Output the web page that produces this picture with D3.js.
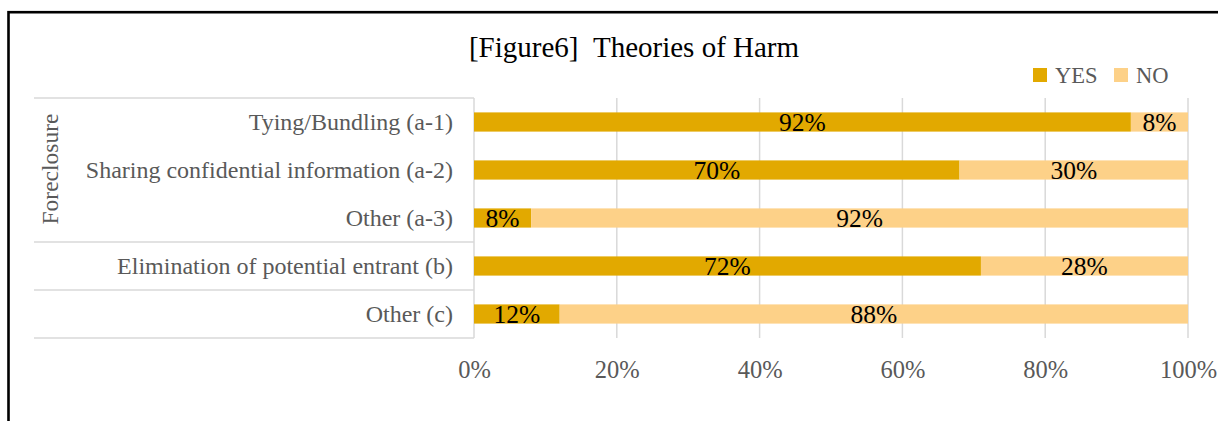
<!DOCTYPE html>
<html>
<head>
<meta charset="utf-8">
<script src="https://cdn.jsdelivr.net/npm/d3@7"></script>
<style>
  html, body { margin: 0; padding: 0; background: #fff; overflow: hidden; }
  svg { display: block; font-family: "Liberation Serif", "Times New Roman", serif; }
</style>
</head>
<body>
<div id="vis"></div>
<script>
// chart data
var categories = [
  'Tying/Bundling (a-1)',
  'Sharing confidential information (a-2)',
  'Other (a-3)',
  'Elimination of potential entrant (b)',
  'Other (c)'
];
var yesValues = [92, 68, 8, 71, 12];
var noValues = [8, 32, 92, 29, 88];
var yesLabels = ['92%', '70%', '8%', '72%', '12%'];
var noLabels = ['8%', '30%', '92%', '28%', '88%'];
var groupName = 'Foreclosure';
var groupSize = 3;
var seriesNames = ['YES', 'NO'];
var tickValues = [0, 20, 40, 60, 80, 100];

var width = 1218;
var height = 421;
var colors = { YES: '#e2a900', NO: '#fdd188' };
var gridColor = '#d9d9d9';
var textGray = '#595959';

var svg = d3.select('#vis')
  .append('svg')
  .attr('width', width)
  .attr('height', height);

// outer frame (right and bottom edges run off the page)
svg.append('rect')
  .attr('x', 8.5)
  .attr('y', 12.2)
  .attr('width', width + 20)
  .attr('height', height + 20)
  .attr('fill', 'none')
  .attr('stroke', '#000')
  .attr('stroke-width', 2.6);

var x = d3.scaleLinear()
  .domain([0, 100])
  .range([474, 1188]);

var y = d3.scaleBand()
  .domain(categories)
  .range([98, 338])
  .paddingInner(0.6)
  .paddingOuter(0.3);

// title
svg.append('text')
  .attr('x', 634)
  .attr('y', 57)
  .attr('text-anchor', 'middle')
  .attr('font-size', 29)
  .attr('fill', '#000')
  .text('[Figure6]\u00a0\u00a0Theories of Harm');

// gridlines
svg.append('g')
  .selectAll('line')
  .data(tickValues.slice(1))
  .enter().append('line')
  .attr('x1', function (d) { return x(d); })
  .attr('x2', function (d) { return x(d); })
  .attr('y1', 98)
  .attr('y2', 338)
  .attr('stroke', gridColor)
  .attr('stroke-width', 1.5);

// category table lines on the left
var step = y.step();
var tableLeft = 34;
var tableLines = [98, 98 + step * groupSize, 98 + step * (groupSize + 1), 338];
svg.append('g')
  .selectAll('line')
  .data(tableLines)
  .enter().append('line')
  .attr('x1', tableLeft)
  .attr('x2', x(0))
  .attr('y1', function (d) { return d; })
  .attr('y2', function (d) { return d; })
  .attr('stroke', gridColor)
  .attr('stroke-width', 1.5);

svg.append('line')
  .attr('x1', x(0))
  .attr('x2', x(0))
  .attr('y1', 98)
  .attr('y2', 338)
  .attr('stroke', gridColor)
  .attr('stroke-width', 1.5);

// stacked bars
var rows = categories.map(function (c, i) {
  return { cat: c, yes: yesValues[i], no: noValues[i], yesLabel: yesLabels[i], noLabel: noLabels[i] };
});

var bars = svg.append('g');

bars.selectAll('.yes')
  .data(rows)
  .enter().append('rect')
  .attr('class', 'yes')
  .attr('x', x(0))
  .attr('y', function (d) { return y(d.cat); })
  .attr('width', function (d) { return x(d.yes) - x(0); })
  .attr('height', y.bandwidth())
  .attr('fill', colors.YES);

bars.selectAll('.no')
  .data(rows)
  .enter().append('rect')
  .attr('class', 'no')
  .attr('x', function (d) { return x(d.yes); })
  .attr('y', function (d) { return y(d.cat); })
  .attr('width', function (d) { return x(100) - x(d.yes); })
  .attr('height', y.bandwidth())
  .attr('fill', colors.NO);

// data labels
bars.selectAll('.yes-label')
  .data(rows)
  .enter().append('text')
  .attr('class', 'yes-label')
  .attr('x', function (d) { return (x(0) + x(d.yes)) / 2; })
  .attr('y', function (d) { return y(d.cat) + y.bandwidth() / 2 + 8.5; })
  .attr('text-anchor', 'middle')
  .attr('font-size', 25.5)
  .attr('fill', '#000')
  .text(function (d) { return d.yesLabel; });

bars.selectAll('.no-label')
  .data(rows)
  .enter().append('text')
  .attr('class', 'no-label')
  .attr('x', function (d) { return (x(d.yes) + x(100)) / 2; })
  .attr('y', function (d) { return y(d.cat) + y.bandwidth() / 2 + 8.5; })
  .attr('text-anchor', 'middle')
  .attr('font-size', 25.5)
  .attr('fill', '#000')
  .text(function (d) { return d.noLabel; });

// category labels
svg.append('g')
  .selectAll('text')
  .data(categories)
  .enter().append('text')
  .attr('x', 453)
  .attr('y', function (d) { return y(d) + y.bandwidth() / 2 + 7.5; })
  .attr('text-anchor', 'end')
  .attr('font-size', 24)
  .attr('fill', textGray)
  .text(function (d) { return d; });

// group label, rotated
var groupMid = 98 + step * groupSize / 2;
svg.append('text')
  .attr('transform', 'translate(58,' + (groupMid - 1) + ') rotate(-90)')
  .attr('text-anchor', 'middle')
  .attr('font-size', 23.5)
  .attr('fill', textGray)
  .text(groupName);

// x axis tick labels
var xAxis = d3.axisBottom(x)
  .tickValues(tickValues)
  .tickSize(0)
  .tickPadding(0)
  .tickFormat(function (d) { return d + '%'; });

var axisG = svg.append('g')
  .attr('transform', 'translate(0,360)')
  .call(xAxis);
axisG.select('.domain').remove();
axisG.selectAll('text')
  .attr('dy', null)
  .attr('y', 18)
  .attr('font-family', '"Liberation Serif", serif')
  .attr('font-size', 24.5)
  .attr('fill', textGray);

// legend
var legendX = [1033, 1114];
var legend = svg.append('g')
  .selectAll('g')
  .data(seriesNames)
  .enter().append('g')
  .attr('transform', function (d, i) { return 'translate(' + legendX[i] + ',68)'; });

legend.append('rect')
  .attr('width', 14)
  .attr('height', 14)
  .attr('fill', function (d) { return colors[d]; });

legend.append('text')
  .attr('x', 22)
  .attr('y', 14.5)
  .attr('font-size', 22.5)
  .attr('fill', textGray)
  .text(function (d) { return d; });
</script>
</body>
</html>
